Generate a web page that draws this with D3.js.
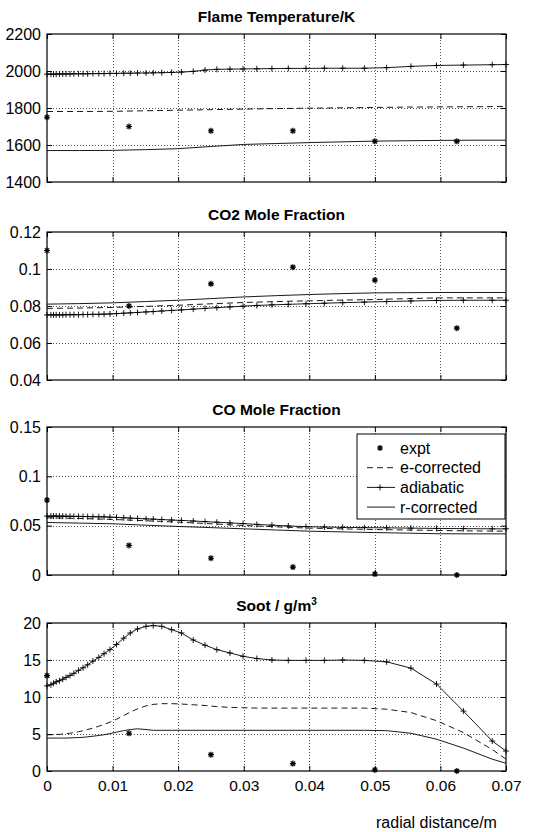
<!DOCTYPE html>
<html>
<head>
<meta charset="utf-8">
<script src="https://cdn.jsdelivr.net/npm/d3@7"></script>
<style>
  body { margin: 0; background: #fff; }
  svg text { font-family: "Liberation Sans", Arial, Helvetica, sans-serif; fill: #000; }
</style>
</head>
<body>
<svg id="chart" width="548" height="832"></svg>
<script>
// radial grid of the model (adiabatic runs are plotted with + markers)
var xGrid = [0, 0.0006, 0.001, 0.0014, 0.0019, 0.0024, 0.0029, 0.0035, 0.0041, 0.0048,
  0.0055, 0.0062, 0.0070, 0.0079, 0.0087, 0.0096, 0.0106, 0.0117, 0.0127, 0.0138,
  0.0151, 0.0162, 0.0175, 0.0190, 0.0205, 0.0223, 0.0241, 0.0259, 0.0279, 0.0299,
  0.0320, 0.0343, 0.0368, 0.0395, 0.0423, 0.0451, 0.0484, 0.0518, 0.0555, 0.0594,
  0.0635, 0.0679, 0.07];
var xCoarse = [0, 0.005, 0.01, 0.015, 0.02, 0.025, 0.03, 0.035, 0.04, 0.045, 0.05, 0.055, 0.06, 0.065, 0.07];
var exptX = [0, 0.0125, 0.025, 0.0375, 0.05, 0.0625];
var xTicks = [0, 0.01, 0.02, 0.03, 0.04, 0.05, 0.06, 0.07];

// Flame temperature
var tempTicks = [1400, 1600, 1800, 2000, 2200];
var tempExpt = [1750, 1700, 1677, 1677, 1620, 1620];
var tempAdiabatic = [1983, 1983, 1983, 1983, 1984, 1984, 1984, 1984, 1985, 1985,
  1985, 1985, 1986, 1986, 1986, 1987, 1987, 1988, 1988, 1989,
  1989, 1990, 1991, 1992, 1994, 1998, 2005, 2009, 2010, 2011,
  2012, 2013, 2014, 2014, 2015, 2015, 2015, 2018, 2025, 2030,
  2032, 2034, 2035];
var tempECorrected = [1781, 1781, 1782, 1785, 1788, 1791, 1794, 1797, 1799, 1801, 1803, 1805, 1806, 1807, 1808];
var tempRCorrected = [1570, 1570, 1571, 1575, 1580, 1592, 1603, 1608, 1613, 1617, 1621, 1623, 1625, 1626, 1626];

// CO2 mole fraction
var co2Ticks = [0.04, 0.06, 0.08, 0.1, 0.12];
var co2Expt = [0.110, 0.080, 0.092, 0.101, 0.094, 0.068];
var co2Adiabatic = [0.0752, 0.0752, 0.0752, 0.0752, 0.0752, 0.0752, 0.0753, 0.0753, 0.0753, 0.0753,
  0.0754, 0.0754, 0.0755, 0.0755, 0.0756, 0.0757, 0.0759, 0.0761, 0.0763, 0.0765,
  0.0768, 0.0770, 0.0773, 0.0776, 0.0779, 0.0783, 0.0787, 0.0791, 0.0795, 0.0799,
  0.0803, 0.0806, 0.0809, 0.0812, 0.0815, 0.0818, 0.0821, 0.0824, 0.0827, 0.0830,
  0.0831, 0.0831, 0.0831];
var co2ECorrected = [0.0787, 0.0789, 0.0792, 0.0798, 0.0804, 0.0812, 0.0819, 0.0824, 0.0828, 0.0832, 0.0835, 0.0840, 0.0844, 0.0844, 0.0844];
var co2RCorrected = [0.0810, 0.0813, 0.0817, 0.0824, 0.0831, 0.0840, 0.0849, 0.0856, 0.0862, 0.0867, 0.0871, 0.0872, 0.0873, 0.0873, 0.0873];

// CO mole fraction
var coTicks = [0, 0.05, 0.1, 0.15];
var coExpt = [0.076, 0.030, 0.017, 0.008, 0.001, 0.0];
var coAdiabatic = [0.0597, 0.0597, 0.0597, 0.0597, 0.0596, 0.0596, 0.0595, 0.0595, 0.0594, 0.0594,
  0.0593, 0.0592, 0.0591, 0.0590, 0.0589, 0.0587, 0.0584, 0.0580, 0.0577, 0.0573,
  0.0569, 0.0566, 0.0562, 0.0557, 0.0553, 0.0547, 0.0541, 0.0535, 0.0528, 0.0521,
  0.0513, 0.0505, 0.0497, 0.0490, 0.0486, 0.0483, 0.0480, 0.0478, 0.0475, 0.0472,
  0.0470, 0.0468, 0.0468];
var coECorrected = [0.0580, 0.0573, 0.0563, 0.0550, 0.0536, 0.0519, 0.0502, 0.0488, 0.0475, 0.0468, 0.0461, 0.0456, 0.0451, 0.0447, 0.0444];
var coRCorrected = [0.0532, 0.0526, 0.0519, 0.0505, 0.0492, 0.0480, 0.0468, 0.0456, 0.0444, 0.0437, 0.0430, 0.0424, 0.0418, 0.0417, 0.0417];

// Soot
var sootTicks = [0, 5, 10, 15, 20];
var sootExpt = [12.9, 5.1, 2.2, 1.0, 0.15, 0.0];
var sootAdiabatic = [11.5, 11.65, 11.85, 12.05, 12.2, 12.4, 12.65, 12.9, 13.2, 13.6,
  13.95, 14.35, 14.85, 15.35, 15.85, 16.4, 17.1, 17.95, 18.65, 19.2,
  19.55, 19.65, 19.55, 19.1, 18.65, 17.7, 17.0, 16.4, 15.95, 15.5,
  15.2, 15.0, 14.95, 14.95, 14.95, 15.0, 14.95, 14.75, 13.9, 11.75,
  8.1, 4.05, 2.7];
var sootECorrected = [4.9, 4.9, 4.9, 4.92, 4.95, 5.0, 5.05, 5.1, 5.2, 5.3,
  5.45, 5.6, 5.8, 6.05, 6.3, 6.6, 7.0, 7.5, 7.95, 8.4,
  8.8, 9.0, 9.1, 9.1, 9.05, 8.95, 8.85, 8.7, 8.6, 8.55,
  8.5, 8.5, 8.5, 8.5, 8.5, 8.5, 8.5, 8.35, 7.9, 6.8,
  5.2, 2.9, 1.6];
var sootRCorrected = [4.45, 4.45, 4.45, 4.45, 4.45, 4.45, 4.45, 4.47, 4.5, 4.52,
  4.55, 4.62, 4.7, 4.8, 4.9, 5.05, 5.25, 5.45, 5.6, 5.7,
  5.6, 5.5, 5.5, 5.5, 5.5, 5.5, 5.5, 5.5, 5.5, 5.5,
  5.5, 5.5, 5.5, 5.5, 5.5, 5.5, 5.5, 5.45, 5.1, 4.3,
  3.1, 1.6, 1.05];

var legendLabels = ["expt", "e-corrected", "adiabatic", "r-corrected"];

var svg = d3.select("#chart");
var left = 47, right = 506, plotH = 148;
var x = d3.scaleLinear().domain([0, 0.07]).range([left, right]);

var panels = [
  { title: "Flame Temperature/K", top: 34, domain: [1400, 2200], ticks: tempTicks,
    expt: tempExpt, adi: tempAdiabatic, eCor: tempECorrected, rCor: tempRCorrected, eX: xCoarse },
  { title: "CO2 Mole Fraction", top: 232, domain: [0.04, 0.12], ticks: co2Ticks,
    expt: co2Expt, adi: co2Adiabatic, eCor: co2ECorrected, rCor: co2RCorrected, eX: xCoarse },
  { title: "CO Mole Fraction", top: 427, domain: [0, 0.15], ticks: coTicks,
    expt: coExpt, adi: coAdiabatic, eCor: coECorrected, rCor: coRCorrected, eX: xCoarse, legend: true },
  { title: "Soot / g/m", sup: "3", top: 623, domain: [0, 20], ticks: sootTicks,
    expt: sootExpt, adi: sootAdiabatic, eCor: sootECorrected, rCor: sootRCorrected, eX: xGrid, xLabels: true }
];

var plusPath = "M-3,0H3M0,-3V3";
var starPath = "M-3,0H3M0,-3V3M-2.2,-2.2L2.2,2.2M-2.2,2.2L2.2,-2.2";

panels.forEach(function(p) {
  var y = d3.scaleLinear().domain(p.domain).range([p.top + plotH, p.top]);
  var g = svg.append("g");

  // dotted grid
  g.append("g").selectAll("line").data(xTicks.slice(1, -1)).enter().append("line")
    .attr("x1", function(d) { return Math.round(x(d)) + 0.5; })
    .attr("x2", function(d) { return Math.round(x(d)) + 0.5; })
    .attr("y1", p.top).attr("y2", p.top + plotH)
    .attr("stroke", "#555").attr("stroke-dasharray", "1,2").attr("shape-rendering", "crispEdges");
  g.append("g").selectAll("line").data(p.ticks.slice(1, -1)).enter().append("line")
    .attr("y1", function(d) { return Math.round(y(d)) + 0.5; })
    .attr("y2", function(d) { return Math.round(y(d)) + 0.5; })
    .attr("x1", left).attr("x2", right)
    .attr("stroke", "#555").attr("stroke-dasharray", "1,2").attr("shape-rendering", "crispEdges");

  // axes, MATLAB style: ticks inside on all four sides
  var fmt = function(d) { return String(d); };
  var ax = g.append("g").attr("transform", "translate(" + left + ",0)")
    .call(d3.axisLeft(y).tickValues(p.ticks).tickSizeInner(-5).tickSizeOuter(0).tickPadding(6).tickFormat(fmt));
  var axR = g.append("g").attr("transform", "translate(" + right + ",0)")
    .call(d3.axisRight(y).tickValues(p.ticks).tickSizeInner(-5).tickSizeOuter(0).tickFormat(""));
  var axT = g.append("g").attr("transform", "translate(0," + p.top + ")")
    .call(d3.axisTop(x).tickValues(xTicks).tickSizeInner(-5).tickSizeOuter(0).tickFormat(""));
  var axB = g.append("g").attr("transform", "translate(0," + (p.top + plotH) + ")")
    .call(d3.axisBottom(x).tickValues(xTicks).tickSizeInner(-5).tickSizeOuter(0).tickPadding(9)
      .tickFormat(p.xLabels ? fmt : ""));
  [ax, axR, axT, axB].forEach(function(a) {
    a.select(".domain").remove();
    a.attr("font-family", null);
    a.selectAll("line").attr("stroke", "#000");
  });
  ax.attr("font-size", 16);
  axB.attr("font-size", 15.5);

  g.append("rect")
    .attr("x", left).attr("y", p.top).attr("width", right - left).attr("height", plotH)
    .attr("fill", "none").attr("stroke", "#000").attr("stroke-width", 1.2);

  // title
  var t = g.append("text").attr("x", (left + right) / 2).attr("y", p.top - 12)
    .attr("text-anchor", "middle").attr("font-size", 15.5).attr("font-weight", "bold")
    .text(p.title);
  if (p.sup) {
    t.append("tspan").attr("font-size", 10).attr("dy", -6).text(p.sup);
  }

  // model curves
  var line = d3.line().x(function(d) { return x(d[0]); }).y(function(d) { return y(d[1]); });
  g.append("path").attr("d", line(d3.zip(p.eX, p.eCor)))
    .attr("fill", "none").attr("stroke", "#000").attr("stroke-width", 0.9).attr("stroke-dasharray", "6,4");
  g.append("path").attr("d", line(d3.zip(p.eX, p.rCor)))
    .attr("fill", "none").attr("stroke", "#000").attr("stroke-width", 0.9);
  var adi = d3.zip(xGrid, p.adi);
  g.append("path").attr("d", line(adi))
    .attr("fill", "none").attr("stroke", "#000").attr("stroke-width", 0.9);
  g.append("g").selectAll("path").data(adi).enter().append("path")
    .attr("transform", function(d) { return "translate(" + x(d[0]) + "," + y(d[1]) + ")"; })
    .attr("d", plusPath).attr("stroke", "#000").attr("stroke-width", 0.9);

  // experiment
  g.append("g").selectAll("path").data(d3.zip(exptX, p.expt)).enter().append("path")
    .attr("transform", function(d) { return "translate(" + x(d[0]) + "," + y(d[1]) + ")"; })
    .attr("d", starPath).attr("stroke", "#000").attr("stroke-width", 1.2);

  if (p.legend) {
    var lg = g.append("g").attr("transform", "translate(357,434)");
    lg.append("rect").attr("width", 148).attr("height", 85)
      .attr("fill", "#fff").attr("stroke", "#000").attr("stroke-width", 1);
    legendLabels.forEach(function(lab, i) {
      var cy = 14 + i * 19.7;
      if (i === 0) {
        lg.append("path").attr("transform", "translate(23," + cy + ")").attr("d", starPath)
          .attr("stroke", "#000").attr("stroke-width", 1.2);
      } else {
        lg.append("line").attr("x1", 10).attr("x2", 38).attr("y1", cy).attr("y2", cy)
          .attr("stroke", "#000").attr("stroke-width", 0.9)
          .attr("stroke-dasharray", i === 1 ? "6,4" : null);
        if (i === 2) {
          lg.append("path").attr("transform", "translate(23," + cy + ")").attr("d", plusPath)
            .attr("stroke", "#000").attr("stroke-width", 0.9);
        }
      }
      lg.append("text").attr("x", 43).attr("y", cy).attr("dy", "0.35em")
        .attr("font-size", 16).text(lab);
    });
  }
});

svg.append("text").attr("x", 376).attr("y", 828).attr("font-size", 16).text("radial distance/m");
</script>
</body>
</html>
